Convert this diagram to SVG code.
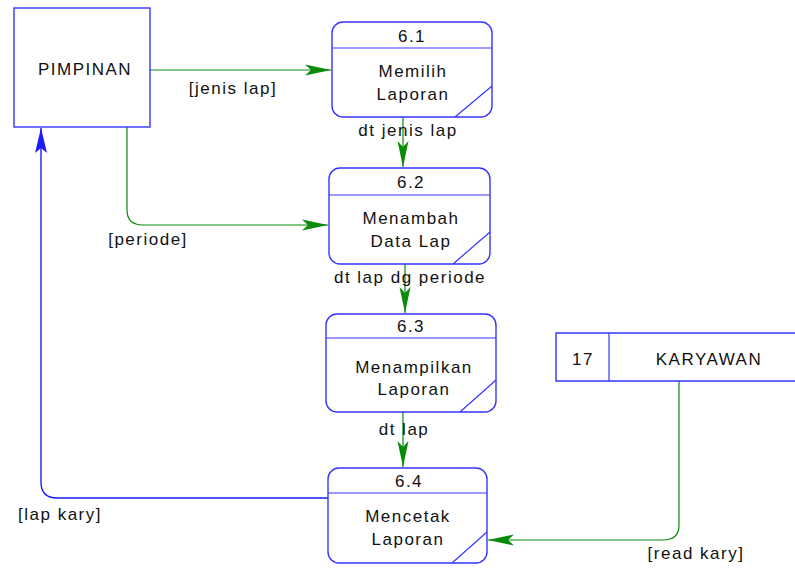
<svg xmlns="http://www.w3.org/2000/svg" width="795" height="568" viewBox="0 0 795 568">
<style>
.box{fill:#fff;stroke:#3535ff;stroke-width:1.4}
.ln{fill:none;stroke:#3535ff;stroke-width:1.2}
.g{fill:none;stroke:#0a8a0a;stroke-width:1.2}
.b{fill:none;stroke:#1a1aff;stroke-width:1.4}
text{font-family:"Liberation Sans",Arial,sans-serif;font-size:17px;fill:#111;text-anchor:middle;letter-spacing:1.5px}
</style>
<defs>
<marker id="ga" markerUnits="userSpaceOnUse" markerWidth="30" markerHeight="14" refX="26" refY="6" orient="auto" viewBox="0 0 30 14">
<path d="M26,6 L0,0.5 L6,6 L0,11.5 Z" fill="#0a8a0a"/>
</marker>
<marker id="ba" markerUnits="userSpaceOnUse" markerWidth="30" markerHeight="14" refX="25" refY="6" orient="auto" viewBox="0 0 30 14">
<path d="M25,6 L0,0 L5,6 L0,12 Z" fill="#1a1aff"/>
</marker>
</defs>
<g id="connectors">
<path class="g" d="M150,70 H331" marker-end="url(#ga)"/>
<path class="g" d="M403,117 V167" marker-end="url(#ga)"/>
<path class="g" d="M405,264 V313" marker-end="url(#ga)"/>
<path class="g" d="M403,412 V467" marker-end="url(#ga)"/>
<path class="g" d="M127,127 V210 Q127,225 143,225 H328" marker-end="url(#ga)"/>
<path class="g" d="M679,381 V525 Q679,540 663,540 H488" marker-end="url(#ga)"/>
<path class="b" d="M328,498 H57 Q41,498 41,482 V128" marker-end="url(#ba)"/>
<text x="233" y="94">[jenis lap]</text>
<text x="408" y="136">dt jenis lap</text>
<text x="148" y="245">[periode]</text>
<text x="410" y="283">dt lap dg periode</text>
<text x="404" y="435">dt lap</text>
<text x="60" y="520">[lap kary]</text>
<text x="696" y="559">[read kary]</text>
</g>
<g id="pimpinan">
<rect class="box" x="14" y="8" width="136" height="119"/>
<text x="85" y="75">PIMPINAN</text>
</g>
<g id="p61">
<rect class="box" x="332" y="22" width="160" height="95" rx="11"/>
<path class="ln" d="M332,48 H492 M455,117 L492,86"/>
<text x="412" y="42">6.1</text>
<text x="413" y="77">Memilih</text>
<text x="413" y="100">Laporan</text>
</g>
<g id="p62">
<rect class="box" x="329" y="168" width="161" height="96" rx="11"/>
<path class="ln" d="M329,195 H490 M453,264 L490,232"/>
<text x="411" y="188">6.2</text>
<text x="411" y="224">Menambah</text>
<text x="411" y="247">Data Lap</text>
</g>
<g id="p63">
<rect class="box" x="326" y="314" width="170" height="98" rx="11"/>
<path class="ln" d="M326,338 H496 M460,412 L496,380"/>
<text x="411" y="332">6.3</text>
<text x="414" y="373">Menampilkan</text>
<text x="414" y="395">Laporan</text>
</g>
<g id="p64">
<rect class="box" x="328" y="468" width="159" height="95" rx="11"/>
<path class="ln" d="M328,493 H487 M452,563 L487,532"/>
<text x="409" y="487">6.4</text>
<text x="408" y="522">Mencetak</text>
<text x="408" y="545">Laporan</text>
</g>
<g id="karyawan">
<path class="box" d="M796,333 H556 V381 H796"/>
<path class="ln" d="M609,333 V381"/>
<text x="583" y="365">17</text>
<text x="709" y="365">KARYAWAN</text>
</g>
</svg>
